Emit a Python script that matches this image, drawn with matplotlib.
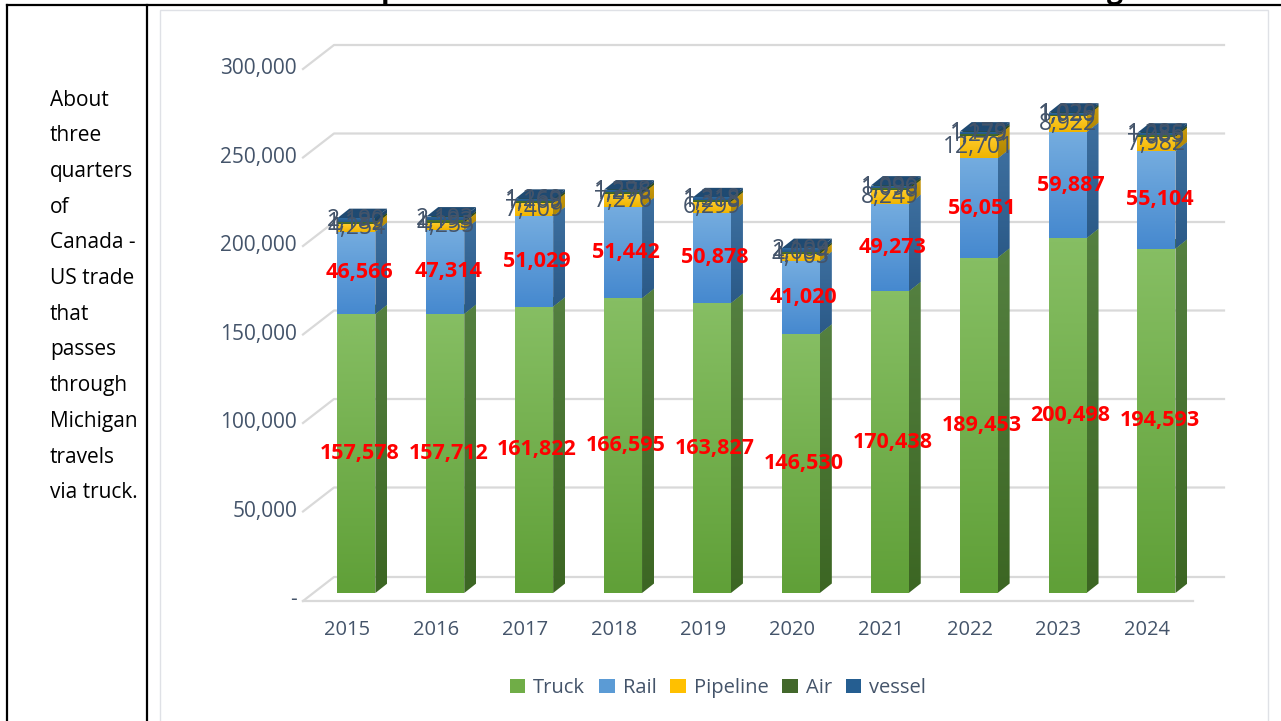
import numpy as np
import matplotlib
matplotlib.use("Agg")
import matplotlib.pyplot as plt
from matplotlib.patches import Polygon, Rectangle, Patch
from matplotlib.lines import Line2D
from matplotlib.colors import LinearSegmentedColormap

# ── Data ─────────────────────────────────────────────────────────────────────
years    = ["2015", "2016", "2017", "2018", "2019", "2020", "2021", "2022", "2023", "2024"]
truck    = [157578, 157712, 161822, 166595, 163827, 146530, 170438, 189453, 200498, 194593]
rail     = [46566, 47314, 51029, 51442, 50878, 41020, 49273, 56051, 59887, 55104]
pipeline = [4254, 4255, 7409, 7276, 6299, 4103, 8249, 12701, 8922, 7982]
air      = [1189, 1193, 1169, 1276, 1218, 1084, 1099, 1279, 1026, 1085]
vessel   = [2190, 2193, 1269, 1298, 1318, 2109, 1096, 1179, 1029, 1286]
y_ticks  = [0, 50000, 100000, 150000, 200000, 250000, 300000]

series = [
    # name, values, front top, front bottom, side top, side bottom, label colour, bold
    ("Truck",    truck,    "#86be63", "#60a038", "#548040", "#3c6623", "red",     True),
    ("Rail",     rail,     "#74acdf", "#4689cf", "#3d6f9f", "#2b5a88", "red",     True),
    ("Pipeline", pipeline, "#ffcd2e", "#f0b400", "#c99a10", "#b08600", "#44546A", False),
    ("Air",      air,      "#4c7532", "#3d6025", "#304f1d", "#2a4418", "#44546A", False),
    ("vessel",   vessel,   "#2f6a9e", "#225688", "#1f4a72", "#1a3f63", "#44546A", False),
]
legend_colors = ["#70ad47", "#5b9bd5", "#ffc000", "#43682b", "#255e91"]

FONT = "Open Sans"
TXT = "#44546A"
GRID = "#d9d9d9"

W, H = 1281, 721
fig = plt.figure(figsize=(W / 100, H / 100), dpi=100)
fig.patch.set_facecolor("white")


def fx(px):
    return px / W


def fy(py):
    return 1 - py / H


# ── Table frame and left note ────────────────────────────────────────────────
for xs, ys in [([7, 7], [5, H]), ([147, 147], [5, H]), ([7, W], [5, 5])]:
    fig.add_artist(Line2D([fx(x) for x in xs], [fy(y) for y in ys],
                          color="black", lw=1.6))
fig.add_artist(Rectangle((fx(160), fy(740)), fx(1268) - fx(160), fy(10) - fy(740),
                         facecolor="none", edgecolor="#dfe1e6", lw=1))

note = ["About", "three", "quarters", "of", "Canada -", "US trade", "that",
        "passes", "through", "Michigan", "travels", "via truck."]
for k, line in enumerate(note):
    fig.text(fx(50), fy(100 + k * 35.7), line, fontsize=15, family=FONT,
             color="black", va="center", ha="left")

# title is cut off by the top of the screenshot, only descenders remain
fig.text(fx(304), fy(-2), "Transportation Modes for Canada - US Trade Across Michigan",
         fontsize=20.3, fontweight="bold", family=FONT, color="black",
         va="baseline", ha="left")

# ── Chart axes (front plane of the bars) ─────────────────────────────────────
STEP = 88.9                 # px per category
YPX = 531.0                 # px for 300,000
ax = fig.add_axes([fx(303), fy(593), 10.35 * STEP / W, YPX / H])
ax.set_xlim(-0.6, 9.75)
ax.set_ylim(0, 300000)
ax.axis("off")

ux = 1 / STEP
uy = 300000 / YPX
x0 = -0.6
hw = 19 * ux
ddx, ddy = 12 * ux, 9.5 * uy

# gridlines with 3D wall offset
for v in y_ticks:
    if v == 0:
        ax.plot([x0, x0 + (1193 - 303) * ux], [-8 * uy, -8 * uy],
                color=GRID, lw=1.6, clip_on=False, zorder=1)
        ax.plot([x0, x0 + 31 * ux, x0 + (1224 - 303) * ux], [-8 * uy, 16 * uy, 16 * uy],
                color=GRID, lw=1.6, clip_on=False, zorder=1)
        lab = "-"
    else:
        ax.plot([x0, x0 + 31 * ux, x0 + (1224 - 303) * ux],
                [v - 7 * uy, v + 17 * uy, v + 17 * uy],
                color=GRID, lw=1.6, clip_on=False, zorder=1)
        lab = f"{v:,}"
    ax.text(x0 - 6 * ux, v - 7 * uy, lab, ha="right", va="center",
            fontsize=15, family=FONT, color=TXT, clip_on=False)

for i, yr in enumerate(years):
    ax.text(i - 9 * ux, -37 * uy, yr, ha="center", va="center",
            fontsize=14.5, family=FONT, color=TXT, clip_on=False)


def shade(verts, c_top, c_bot, z):
    poly = Polygon(verts, closed=True, facecolor="none", edgecolor="none", zorder=z)
    ax.add_patch(poly)
    xs = [p[0] for p in verts]
    ys = [p[1] for p in verts]
    cmap = LinearSegmentedColormap.from_list("g", [c_bot, c_top])
    im = ax.imshow(np.linspace(0, 1, 64).reshape(-1, 1), cmap=cmap,
                   extent=[min(xs), max(xs), min(ys), max(ys)], origin="lower",
                   aspect="auto", interpolation="bilinear", zorder=z)
    im.set_clip_path(poly)


# ── 3D stacked columns ───────────────────────────────────────────────────────
for i in range(len(years)):
    base = 0
    xl, xr = i - hw, i + hw
    for s, (name, vals, ft, fb, st, sb, lc, bold) in enumerate(series):
        v = vals[i]
        top = base + v
        z = 2 + s * 0.1
        shade([(xl, base), (xr, base), (xr, top), (xl, top)], ft, fb, z)
        shade([(xr, base), (xr + ddx, base + ddy), (xr + ddx, top + ddy), (xr, top)],
              st, sb, z)
        shade([(xl, top), (xr, top), (xr + ddx, top + ddy), (xl + ddx, top + ddy)],
              st, st, z)
        ax.text(i + 3 * ux if bold else i, base + v / 2, f"{v:,}", ha="center",
                va="center", fontsize=15.5 if bold else 16.5, family=FONT, color=lc,
                fontweight="bold" if bold else "normal", zorder=10)
        base = top

ax.set_xlim(-0.6, 9.75)
ax.set_ylim(0, 300000)

# ── Legend ───────────────────────────────────────────────────────────────────
handles = [Patch(facecolor=c, edgecolor="none") for c in legend_colors]
fig.legend(handles, [s[0] for s in series], loc="center",
           bbox_to_anchor=(fx(718), fy(688)), ncol=5, frameon=False,
           handlelength=0.75, handleheight=0.75, handletextpad=0.4,
           columnspacing=0.7, prop={"family": FONT, "size": 14.5},
           labelcolor=TXT)

fig.savefig("out.png", dpi=100)
